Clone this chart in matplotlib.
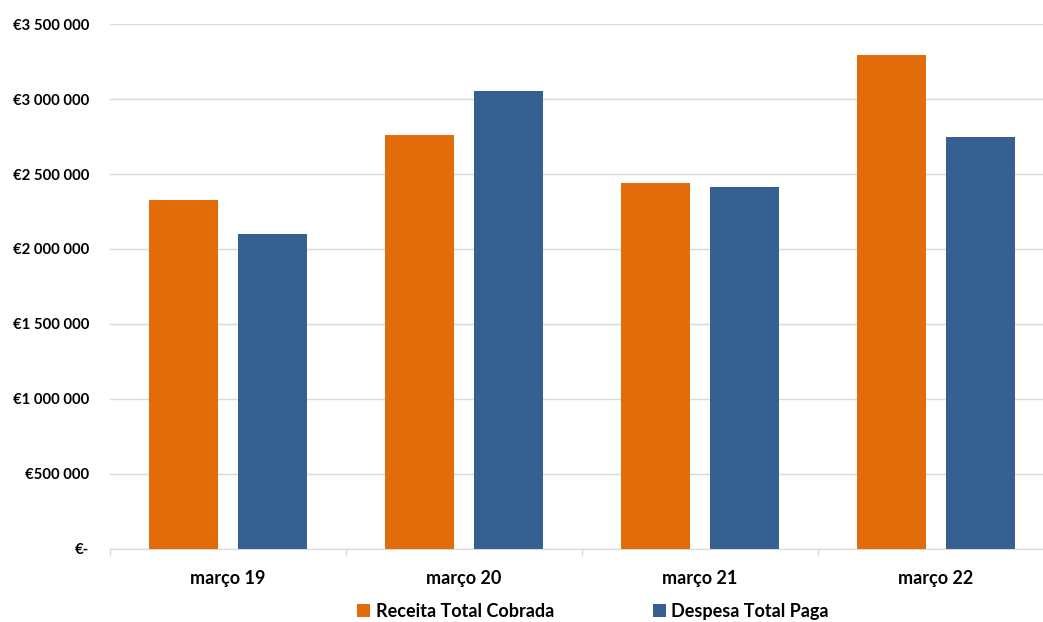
import numpy as np
import matplotlib.pyplot as plt
from matplotlib.ticker import FuncFormatter

categories = ["março 19", "março 20", "março 21", "março 22"]
receita = [2325000, 2757000, 2437000, 3292000]
despesa = [2097000, 3055000, 2415000, 2745000]
series_names = ["Receita Total Cobrada", "Despesa Total Paga"]
colors = ["#E36C0A", "#366092"]

plt.rcParams["font.family"] = ["Lato", "DejaVu Sans"]
plt.rcParams["font.weight"] = "bold"

fig = plt.figure(figsize=(10.43, 6.22), dpi=100)
# plot area runs a little past the right edge, like the original
ax = fig.add_axes([0.1055, 0.1174, 0.905, 0.844])

x = np.arange(len(categories))
w = 0.292
ax.bar(x - 0.188, receita, w, color=colors[0], label=series_names[0], zorder=3)
ax.bar(x + 0.188, despesa, w, color=colors[1], label=series_names[1], zorder=3)

ax.set_xlim(-0.5, len(categories) - 0.5)
ax.set_ylim(0, 3500000)
ax.set_yticks(np.arange(0, 3500001, 500000))


def euro(v, pos):
    if v == 0:
        return "€-"
    return "€" + f"{int(v):,}".replace(",", " ")


ax.yaxis.set_major_formatter(FuncFormatter(euro))
ax.grid(axis="y", color="#D9D9D9", linewidth=1, zorder=0)
ax.tick_params(axis="y", length=0, labelsize=10.7, pad=15)

ax.set_xticks(x)
ax.set_xticklabels(categories, fontsize=13, fontweight="bold")
ax.set_xticks(np.arange(-0.5, len(categories), 1), minor=True)
ax.tick_params(axis="x", which="major", length=0, pad=15)
ax.tick_params(axis="x", which="minor", length=5, color="#D9D9D9", width=1)

for s in ["top", "right", "left"]:
    ax.spines[s].set_visible(False)
ax.spines["bottom"].set_color("#D9D9D9")

fig.legend(loc="center", bbox_to_anchor=(0.5686, 0.017), ncol=2,
           frameon=False, handlelength=0.7, handleheight=0.7,
           columnspacing=5.5, handletextpad=0.3, borderaxespad=0,
           prop={"weight": "bold", "size": 13})

fig.savefig("out.png", dpi=100)
